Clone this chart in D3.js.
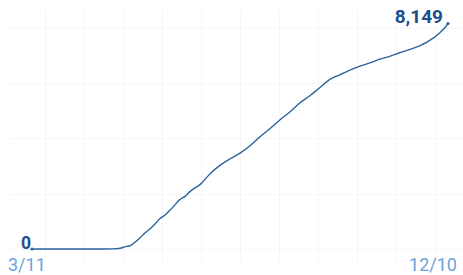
<!DOCTYPE html>
<html>
<head>
<meta charset="utf-8">
<script src="https://cdn.jsdelivr.net/npm/d3@7"></script>
<style>
  html, body { margin: 0; padding: 0; background: #ffffff; }
  svg { display: block; }
</style>
</head>
<body>
<svg id="chart" width="463" height="275"></svg>
<script>
// ---- data ----
const dates = [
  "2020-03-11","2020-03-29","2020-04-18","2020-05-03","2020-05-08","2020-05-11",
  "2020-05-15","2020-05-18","2020-05-21","2020-05-24","2020-05-28","2020-05-31",
  "2020-06-03","2020-06-07","2020-06-10","2020-06-13","2020-06-16","2020-06-20",
  "2020-06-23","2020-06-30","2020-07-06","2020-07-13","2020-07-19","2020-07-26",
  "2020-08-02","2020-08-08","2020-08-15","2020-08-21","2020-08-28","2020-09-03",
  "2020-09-10","2020-09-17","2020-09-23","2020-09-30","2020-10-06","2020-10-13",
  "2020-10-20","2020-10-26","2020-11-02","2020-11-08","2020-11-15","2020-11-22",
  "2020-11-28","2020-12-05","2020-12-08","2020-12-10"
];
const values = [
  0, 0, 0, 4, 25, 76,
  133, 252, 397, 559, 739, 901,
  1082, 1244, 1406, 1587, 1767, 1911,
  2073, 2344, 2705, 3029, 3245, 3462,
  3750, 4050, 4364, 4652, 4959, 5258,
  5536, 5853, 6120, 6300, 6455, 6610,
  6733, 6859, 6971, 7093, 7212, 7356,
  7537, 7836, 8005, 8149
];
const xTickLabels = ["3/11", "12/10"];
const yGridValues = [0, 2000, 4000, 6000, 8000];

// ---- layout ----
const W = 463, H = 275;
const parse = d3.timeParse("%Y-%m-%d");
const data = dates.map((d, i) => ({ date: parse(d), value: values[i] }));

const x = d3.scaleTime()
  .domain(d3.extent(data, d => d.date))
  .range([32, 448]);
const y = d3.scaleLinear()
  .domain([0, 8149])
  .range([249, 23.5]);

const svg = d3.select("#chart");

// background grid
const gridColor = "#f5f5f5";
svg.append("g").selectAll("line.h")
  .data(yGridValues)
  .join("line")
  .attr("x1", 10).attr("x2", W)
  .attr("y1", d => Math.round(y(d)) + 0.5)
  .attr("y2", d => Math.round(y(d)) + 0.5)
  .attr("stroke", gridColor).attr("stroke-width", 1);

const vGrid = d3.scaleLinear().domain([0, 10]).range([45, 435]);
svg.append("g").selectAll("line.v")
  .data(d3.range(0, 11))
  .join("line")
  .attr("x1", d => Math.round(vGrid(d)) + 0.5)
  .attr("x2", d => Math.round(vGrid(d)) + 0.5)
  .attr("y1", 10).attr("y2", 262)
  .attr("stroke", gridColor).attr("stroke-width", 1);

// line
const line = d3.line()
  .x(d => x(d.date))
  .y(d => y(d.value))
  .curve(d3.curveMonotoneX);

svg.append("path")
  .datum(data)
  .attr("fill", "none")
  .attr("stroke", "#2b629f")
  .attr("stroke-width", 1.4)
  .attr("stroke-linejoin", "round")
  .attr("d", line);

// end dots
const first = data[0], last = data[data.length - 1];
svg.selectAll("circle.end")
  .data([first, last])
  .join("circle")
  .attr("cx", d => x(d.date))
  .attr("cy", d => y(d.value))
  .attr("r", 1.6)
  .attr("fill", "#2b629f");

// value labels
const fmt = d3.format(",");
svg.append("text")
  .attr("x", x(first.date) - 1)
  .attr("y", y(first.value))
  .attr("text-anchor", "end")
  .attr("font-family", "Roboto, sans-serif")
  .attr("font-weight", 700)
  .attr("font-size", 17.5)
  .attr("fill", "#1b4f8e")
  .text(fmt(first.value));

svg.append("text")
  .attr("x", x(last.date) - 5)
  .attr("y", y(last.value) - 1)
  .attr("text-anchor", "end")
  .attr("font-family", "Roboto, sans-serif")
  .attr("font-weight", 700)
  .attr("font-size", 19)
  .attr("fill", "#1b4f8e")
  .text(fmt(last.value));

// x labels
svg.append("text")
  .attr("x", 8)
  .attr("y", 271)
  .attr("text-anchor", "start")
  .attr("font-family", "Roboto, sans-serif")
  .attr("font-size", 18)
  .attr("fill", "#6aa3dc")
  .text(xTickLabels[0]);

svg.append("text")
  .attr("x", 457)
  .attr("y", 271)
  .attr("text-anchor", "end")
  .attr("font-family", "Roboto, sans-serif")
  .attr("font-size", 18)
  .attr("fill", "#6aa3dc")
  .text(xTickLabels[1]);
</script>
</body>
</html>
